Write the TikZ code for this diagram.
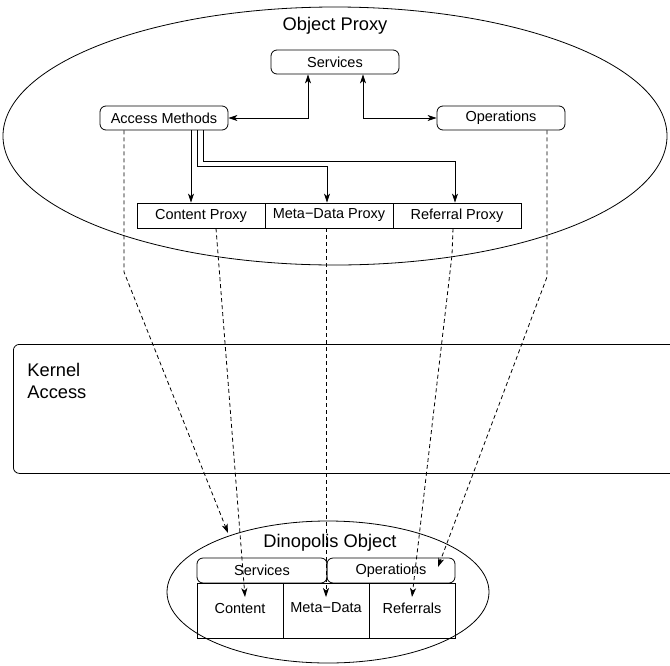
\documentclass[tikz,border=0pt]{standalone}
\usepackage{fontspec}
\setmainfont{Liberation Sans}
\usetikzlibrary{arrows.meta,shapes.geometric}
\begin{document}
\begin{tikzpicture}[x=1pt,y=-1pt,
  line width=0.8pt,
  smallfont/.style={font=\fontsize{14.5}{17}\selectfont},
  rbox/.style={draw, rounded corners=6pt, minimum width=128pt, minimum height=24pt, inner sep=0pt, smallfont},
  sbox/.style={draw, minimum width=128pt, minimum height=25pt, inner sep=0pt, smallfont},
  tbox/.style={draw, minimum width=86pt, minimum height=55pt, inner sep=0pt, text depth=5pt, smallfont},
  big/.style={font=\fontsize{18.3}{22}\selectfont, inner sep=0pt},
  arr/.style={-{Stealth[length=9pt,width=6pt,inset=2.5pt]}},
  arrtwo/.style={{Stealth[length=9pt,width=6pt,inset=2.5pt]}-{Stealth[length=9pt,width=6pt,inset=2.5pt]}},
  dline/.style={dash pattern=on 4pt off 3pt}
]
\clip (0,0) rectangle (670,665);

% Object Proxy
\node[draw, ellipse, minimum width=664pt, minimum height=258pt, inner sep=0pt] (oproxy) at (335,136) {};
\node[big, anchor=base] (oproxytxt) at (335,30) {Object Proxy};

\node[rbox] (services) at (335,62) {Services};
\node[rbox] (access) at (164,118) {Access Methods};
\node[rbox] (operations) at (501,118) {Operations};

\node[sbox] (cproxy) at (201,215.5) {Content Proxy};
\node[sbox] (mproxy) at (329,215.5) {Meta−Data Proxy};
\node[sbox] (rproxy) at (457,215.5) {Referral Proxy};

\draw[arrtwo] (access.east) -| ([xshift=-27pt]services.south);
\draw[arrtwo] ([xshift=28pt]services.south) |- (operations.west);

\coordinate (m1) at (327,166);
\coordinate (r1) at (455,161);
\draw[arr] ([xshift=27pt]access.south) -- ([xshift=27pt]access.south |- cproxy.north);
\draw[arr] ([xshift=33pt]access.south) |- (m1) -- (m1 |- mproxy.north);
\draw[arr] ([xshift=39pt]access.south) |- (r1) -- (r1 |- rproxy.north);

% Kernel Access
\node[draw, rounded corners=6pt, minimum width=690pt, minimum height=129pt, inner sep=0pt, anchor=north west] (kernel) at (13,344) {};
\node[big, anchor=base west, align=left] (kerneltxt) at (27,398) {Kernel\\[0pt]Access};

% Dinopolis Object
\node[draw, ellipse, minimum width=322pt, minimum height=142pt, inner sep=0pt] (dobj) at (328,592) {};
\node[big, anchor=base] (dobjtxt) at (330,547) {Dinopolis Object};

\node[rbox, minimum width=130pt, minimum height=25pt] (dservices) at (262,570.5) {Services};
\node[rbox, minimum height=25pt] (doperations) at (391,570.5) {Operations};

\node[tbox] (content) at (240,610.5) {Content};
\node[tbox] (metadata) at (326,610.5) {Meta−Data};
\node[tbox] (referrals) at (412,610.5) {Referrals};

% dashed connectors
\coordinate (b1) at (124,272);
\coordinate (e1) at (228,533);
\coordinate (e2) at (245,597);
\coordinate (e3) at (326,597);
\coordinate (b4) at (452,255);
\coordinate (e4) at (412,597);
\coordinate (b5) at (547,277);
\coordinate (e5) at (438,567);

\draw[dline, arr] ([xshift=-40pt]access.south) -- (b1) -- (e1);
\draw[dline, arr] ([xshift=15pt]cproxy.south) -- (e2);
\draw[dline, arr] ([xshift=-3pt]mproxy.south) -- (e3);
\draw[dline, arr] ([xshift=-4pt]rproxy.south) -- (b4) -- (e4);
\draw[dline, arr] ([xshift=46pt]operations.south) -- (b5) -- (e5);
\end{tikzpicture}
\end{document}
